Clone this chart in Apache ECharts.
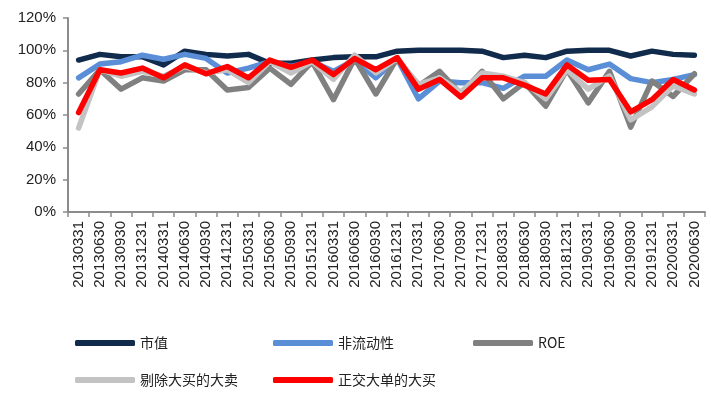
<!DOCTYPE html>
<html>
<head>
<meta charset="utf-8">
<script src="https://cdn.jsdelivr.net/npm/echarts@6/dist/echarts.min.js"></script>
<style>html,body{margin:0;padding:0;background:#fff;}#c{width:711px;height:396px;}</style>
</head>
<body>
<div id="c"></div>
<script>
const categories = ['20130331','20130630','20130930','20131231','20140331','20140630','20140930','20141231','20150331','20150630','20150930','20151231','20160331','20160630','20160930','20161231','20170331','20170630','20170930','20171231','20180331','20180630','20180930','20181231','20190331','20190630','20190930','20191231','20200331','20200630'];
const yTicks = [0, 20, 40, 60, 80, 100, 120];
const marketCap = [94,97.5,96,96,91,99.5,97.5,96.5,97.5,92,92,94,95.5,96,96,99.5,100,100,100,99.5,95.5,97,95.5,99.5,100,100,96.5,99.5,97.5,97];
const illiquidity = [83,91.5,93,97,94.5,97.5,95,86,89,93,90,93,87,94,83,95,70,81,80,80,76.5,84,84,94,88,91.5,82.5,80,82,85];
const roe = [73,88,76,83,81,88,88,75.5,77,89,79,93,69.5,95,73,95,78,87,73,87,70,80,65.5,88,67.5,87,52.5,81,71.5,85.5];
const exBigBuySell = [52,88,84,87,84,90,86,88,80,93,86,93,82,97,86,95,79,83,74,86,84,80,70,88,76,84,57,65,78,73];
const orthBigBuy = [61.5,88,86,89,83,91,85.5,90,83,94,89.5,94,85,95,88,95.5,76,82,71,83,83,78.5,73,91,81.5,82,62,69.5,82,75.5];

const names = ['市值','非流动性','ROE','剔除大买的大卖','正交大单的大买'];
const colors = ['#112b4c','#5a8fd8','#808080','#c3c3c3','#ff0000'];
const datas = [marketCap, illiquidity, roe, exBigBuySell, orthBigBuy];

const chart = echarts.init(document.getElementById('c'), null, {renderer:'canvas'});
const legendPos = [[75,336],[273,336],[473,336],[75,373],[273,373]];
const option = {
  animation: false,
  backgroundColor: '#fff',
  grid: {left: 68, right: 6, top: 18, bottom: 184, containLabel: false},
  xAxis: {
    type: 'category', data: categories, boundaryGap: true,
    axisLine: {lineStyle: {color: '#8c8c8c', width: 2}},
    axisTick: {show: true, length: 5, lineStyle: {color: '#8c8c8c', width: 1.5}},
    axisLabel: {interval: 0, rotate: 90, fontSize: 15, color: '#222', fontFamily: 'Liberation Sans, Arial', margin: 9}
  },
  yAxis: {
    type: 'value', min: yTicks[0], max: yTicks[yTicks.length-1], interval: 20,
    axisLine: {show: true, lineStyle: {color: '#8c8c8c', width: 2}},
    axisTick: {show: true, length: 5, lineStyle: {color: '#8c8c8c', width: 1.5}},
    splitLine: {show: false},
    axisLabel: {formatter: v => v + '%', fontSize: 15, color: '#222', fontFamily: 'Liberation Sans, Arial', margin: 12}
  },
  legend: names.map((n, i) => ({
    data: [n], left: legendPos[i][0], top: legendPos[i][1], padding: 0,
    icon: 'roundRect', itemWidth: 60, itemHeight: 6,
    textStyle: {fontSize: 14, color: '#222', fontFamily: 'Noto Sans CJK SC, Liberation Sans'}
  })),
  series: names.map((n, i) => ({
    name: n, type: 'line', data: datas[i], symbol: 'none', smooth: false,
    lineStyle: {color: colors[i], width: 5.5, cap: 'round', join: 'round'},
    itemStyle: {color: colors[i]}
  }))
};
chart.setOption(option);
</script>
</body>
</html>
